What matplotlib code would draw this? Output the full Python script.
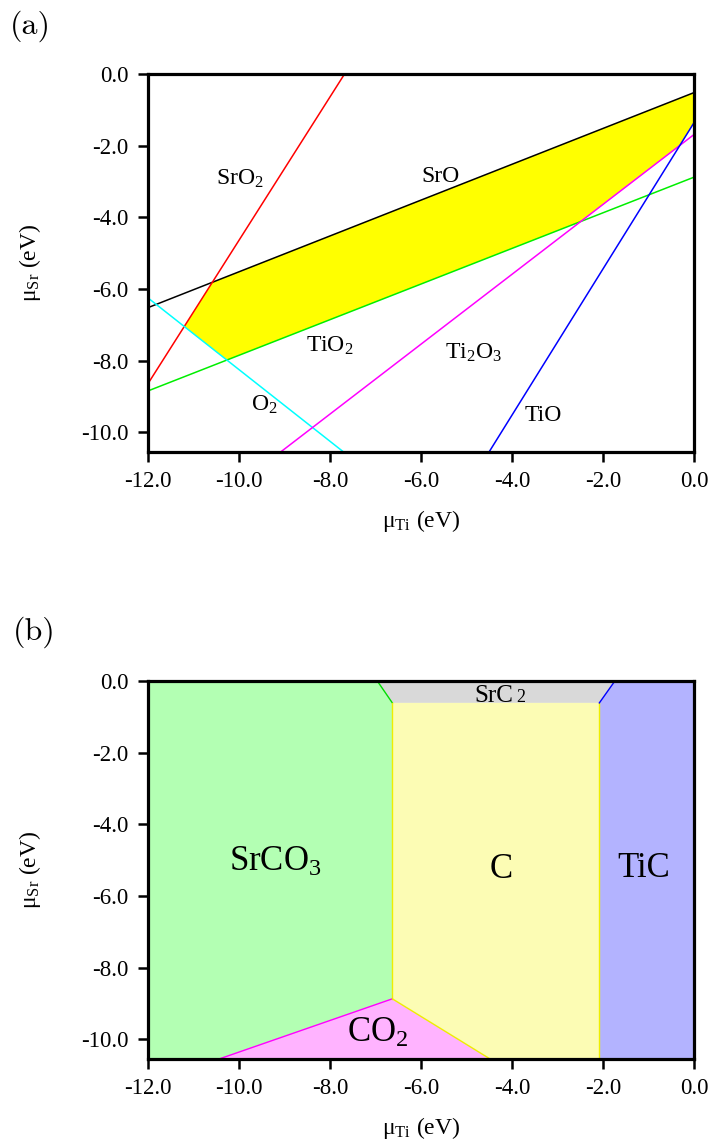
import matplotlib
matplotlib.use("Agg")
import matplotlib.pyplot as plt
import numpy as np

plt.rcParams["font.family"] = ["Liberation Serif", "DejaVu Serif"]
plt.rcParams["mathtext.fontset"] = "custom"
plt.rcParams["mathtext.rm"] = "Liberation Serif"
plt.rcParams["mathtext.it"] = "Liberation Serif:italic"
plt.rcParams["axes.unicode_minus"] = False

XMIN, XMAX = -12.0, 0.0
YMIN, YMAX = -10.55, 0.0

# (a) stability limits: mu_Sr = slope * mu_Ti + intercept
phases_a = ["SrO", "SrO2", "TiO2", "O2", "Ti2O3", "TiO"]
slopes_a = [0.50, 2.00, 0.497, -1.00, 0.975, 2.04]
intercepts_a = [-0.52, 15.36, -2.88, -18.25, -1.69, -1.36]
# +1: allowed region lies above the line, -1: below it
sides_a = [-1, -1, 1, 1, 1, 1]
colors_a = ["black", "red", "#00ee00", "cyan", "magenta", "blue"]
labels_a = ["SrO", "SrO$_2$", "TiO$_2$", "O$_2$", "Ti$_2$O$_3$", "TiO"]
label_x_a = [-5.58, -9.98, -8.00, -9.45, -4.84, -3.32]
label_y_a = [-2.86, -2.94, -7.60, -9.22, -7.77, -9.53]

# (b) regions of the Sr-Ti-C-O diagram
regions_b = ["SrCO3", "SrC2", "C", "CO2", "TiC"]
region_x_b = [
    [-12.0, -6.96, -6.63, -6.63, -10.44, -12.0],
    [-6.96, -1.74, -2.08, -6.63],
    [-6.63, -2.08, -2.08, -4.48, -6.63],
    [-10.44, -6.63, -4.48],
    [-1.74, 0.0, 0.0, -2.08, -2.08],
]
region_y_b = [
    [0.0, 0.0, -0.61, -8.87, -10.55, -10.55],
    [0.0, 0.0, -0.61, -0.61],
    [-0.61, -0.61, -10.55, -10.55, -8.87],
    [-10.55, -8.87, -10.55],
    [0.0, 0.0, -10.55, -10.55, -0.61],
]
region_colors_b = ["#b3ffb3", "#d9d9d9", "#fcfcb4", "#ffb3ff", "#b3b3ff"]
# phase boundaries drawn as coloured segments
edge_x_b = [[-6.96, -6.63], [-6.63, -6.63], [-6.63, -10.44], [-6.63, -4.48],
            [-2.08, -2.08], [-2.08, -1.74]]
edge_y_b = [[0.0, -0.61], [-0.61, -8.87], [-8.87, -10.55], [-8.87, -10.55],
            [-0.61, -10.55], [-0.61, 0.0]]
edge_colors_b = ["#00dd00", "#eeee00", "magenta", "#eeee00", "#eeee00", "blue"]
labels_b = ["SrCO$_3$", "C", "TiC", "CO$_2$"]
label_x_b = [-9.21, -4.24, -1.10, -6.95]
label_y_b = [-5.05, -5.27, -5.22, -9.82]

xticks = np.arange(-12, 0.1, 2)
yticks = np.arange(-10, 0.1, 2)


def clip_halfplane(poly, m, c, side):
    """Keep the part of polygon poly where side*(y - m*x - c) >= 0."""
    out = []
    n = len(poly)
    for i in range(n):
        p, q = poly[i], poly[(i + 1) % n]
        fp = side * (p[1] - m * p[0] - c)
        fq = side * (q[1] - m * q[0] - c)
        if fp >= 0:
            out.append(p)
        if fp * fq < 0:
            t = fp / (fp - fq)
            out.append((p[0] + t * (q[0] - p[0]), p[1] + t * (q[1] - p[1])))
    return out


def style_axes(ax):
    ax.set_xlim(XMIN, XMAX)
    ax.set_ylim(YMIN, YMAX)
    ax.set_xticks(xticks)
    ax.set_yticks(yticks)
    ax.set_xticklabels(["%.1f" % v for v in xticks])
    ax.set_yticklabels(["%.1f" % v for v in yticks])
    ax.tick_params(direction="out", length=7, width=1.8, labelsize=16.5,
                   top=False, right=False, pad=7)
    for sp in ax.spines.values():
        sp.set_linewidth(2.3)
        sp.set_zorder(10)
    ax.set_xlabel("μ$_{\\mathrm{Ti}}$ (eV)", fontsize=17)
    ax.set_ylabel("μ$_{\\mathrm{Sr}}$ (eV)", fontsize=17)
    ax.xaxis.set_label_coords(0.5, -0.148)
    ax.yaxis.set_label_coords(-0.193, 0.5)


fig = plt.figure(figsize=(7.12, 11.45), dpi=100)
ax_a = fig.add_axes([0.2079, 0.6052, 0.7668, 0.3302])
ax_b = fig.add_axes([0.2079, 0.0751, 0.7668, 0.3301])

# ---- (a) stable region of SrTiO3 ----
region = [(XMIN, YMIN), (XMAX, YMIN), (XMAX, YMAX), (XMIN, YMAX)]
for m, c, s in zip(slopes_a, intercepts_a, sides_a):
    region = clip_halfplane(region, m, c, s)
ax_a.fill([p[0] for p in region], [p[1] for p in region],
          color="yellow", lw=0, zorder=1)

xs = np.array([XMIN, XMAX])
for m, c, col in zip(slopes_a, intercepts_a, colors_a):
    ax_a.plot(xs, m * xs + c, color=col, lw=1.1, zorder=2)

for lab, lx, ly in zip(labels_a, label_x_a, label_y_a):
    ax_a.text(lx, ly, lab, fontsize=17, ha="center", va="center", zorder=3)

style_axes(ax_a)

# ---- (b) carbon-containing phases ----
for rx, ry, col in zip(region_x_b, region_y_b, region_colors_b):
    ax_b.fill(rx, ry, color=col, lw=0, zorder=1)

for ex, ey, col in zip(edge_x_b, edge_y_b, edge_colors_b):
    ax_b.plot(ex, ey, color=col, lw=1.0, zorder=2)

for lab, lx, ly in zip(labels_b, label_x_b, label_y_b):
    ax_b.text(lx, ly, lab, fontsize=25, ha="center", va="center", zorder=3)

ax_b.text(-3.98, -0.59, "SrC", fontsize=18, ha="right", va="baseline", zorder=3)
ax_b.text(-3.90, -0.59, "2", fontsize=13, ha="left", va="baseline", zorder=3)

style_axes(ax_b)

fig.text(0.014, 0.977, "(a)", family="cmr10", fontsize=23, va="center")
fig.text(0.018, 0.448, "(b)", family="cmr10", fontsize=23, va="center")

fig.savefig("out.png", dpi=100)
